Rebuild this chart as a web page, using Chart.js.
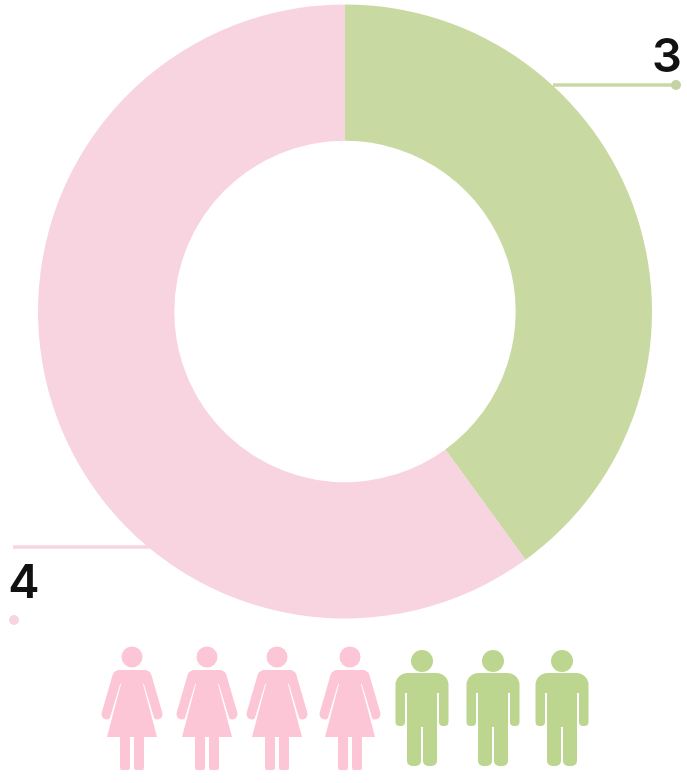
<!DOCTYPE html>
<html>
<head>
<meta charset="utf-8">
<style>
  html, body { margin: 0; padding: 0; background: #fff; }
  canvas { display: block; }
</style>
<script src="https://cdn.jsdelivr.net/npm/chart.js@4"></script>
</head>
<body>
<canvas id="donut" width="687" height="783"></canvas>
<script>
const categories = ["Men", "Women"];
const tickLabels = ["3", "4"];
const peopleCounts = [3, 4];
const sliceShares = [40, 60];
const sliceColors = ["#c9d9a2", "#f8d4e1"];
const iconColors = ["#bdd68f", "#fdc6d6"];

// Little figures under the ring
function drawWoman(ctx, cx) {
    ctx.save();
    ctx.translate(cx, 670);
    ctx.fillStyle = iconColors[1];
    ctx.beginPath();
    ctx.arc(0, -13, 10.5, 0, Math.PI * 2);
    ctx.fill();
    // arms
    ctx.strokeStyle = iconColors[1];
    ctx.lineWidth = 11;
    ctx.lineCap = "round";
    ctx.beginPath();
    ctx.moveTo(-14, 6);
    ctx.lineTo(-25, 44);
    ctx.moveTo(14, 6);
    ctx.lineTo(25, 44);
    ctx.stroke();
    // gap between arm and dress
    ctx.strokeStyle = "#fff";
    ctx.lineWidth = 1.6;
    ctx.lineCap = "butt";
    ctx.beginPath();
    ctx.moveTo(-11, 14);
    ctx.lineTo(-27, 67);
    ctx.moveTo(11, 14);
    ctx.lineTo(27, 67);
    ctx.stroke();
    // dress
    ctx.beginPath();
    ctx.moveTo(-15, 0);
    ctx.lineTo(15, 0);
    ctx.lineTo(11, 14);
    ctx.lineTo(25, 67);
    ctx.lineTo(-25, 67);
    ctx.lineTo(-11, 14);
    ctx.closePath();
    ctx.fill();
    // legs
    ctx.beginPath();
    ctx.roundRect(-12, 66, 10, 34, 2);
    ctx.roundRect(2, 66, 10, 34, 2);
    ctx.fill();
    ctx.restore();
}

function drawMan(ctx, cx) {
    ctx.save();
    ctx.translate(cx, 673);
    ctx.fillStyle = iconColors[0];
    ctx.beginPath();
    ctx.arc(0, -12, 11, 0, Math.PI * 2);
    ctx.fill();
    ctx.beginPath();
    ctx.roundRect(-26.5, 0, 53, 20, [12, 12, 0, 0]);
    ctx.roundRect(-26.5, 10, 9.5, 43, 4);
    ctx.roundRect(17, 10, 9.5, 43, 4);
    ctx.roundRect(-15, 10, 30, 44, 0);
    ctx.roundRect(-15, 50, 14, 43, 5);
    ctx.roundRect(1, 50, 14, 43, 5);
    ctx.fill();
    ctx.restore();
}

const extrasPlugin = {
    id: "extras",
    afterDraw(chart) {
        const ctx = chart.ctx;
        ctx.save();
        // leader lines
        ctx.lineWidth = 3.5;
        ctx.strokeStyle = sliceColors[0];
        ctx.beginPath();
        ctx.moveTo(553, 85);
        ctx.lineTo(676, 85);
        ctx.stroke();
        ctx.fillStyle = "#c4d2a4";
        ctx.beginPath();
        ctx.arc(676, 85, 5, 0, Math.PI * 2);
        ctx.fill();

        ctx.strokeStyle = sliceColors[1];
        ctx.beginPath();
        ctx.moveTo(13, 547);
        ctx.lineTo(150, 547);
        ctx.stroke();
        ctx.fillStyle = sliceColors[1];
        ctx.beginPath();
        ctx.arc(14, 620, 5, 0, Math.PI * 2);
        ctx.fill();

        // labels
        ctx.fillStyle = "#111";
        ctx.font = "600 47px Inter";
        ctx.textBaseline = "alphabetic";
        ctx.textAlign = "center";
        ctx.fillText(tickLabels[0], 667, 72);
        ctx.fillText(tickLabels[1], 24, 598);
        ctx.restore();

        const womanX = [132, 207, 277, 350];
        const manX = [422, 493, 562];
        for (let i = 0; i < peopleCounts[1]; i++) drawWoman(ctx, womanX[i]);
        for (let i = 0; i < peopleCounts[0]; i++) drawMan(ctx, manX[i]);
    }
};

new Chart(document.getElementById("donut").getContext("2d"), {
    type: "doughnut",
    data: {
        labels: categories,
        datasets: [{
            data: sliceShares,
            backgroundColor: sliceColors,
            borderWidth: 0
        }]
    },
    options: {
        responsive: false,
        animation: false,
        cutout: "55.6%",
        layout: { padding: { left: 38, right: 35, top: 4, bottom: 164 } },
        plugins: {
            legend: { display: false },
            tooltip: { enabled: false }
        }
    },
    plugins: [extrasPlugin]
});
</script>
</body>
</html>
